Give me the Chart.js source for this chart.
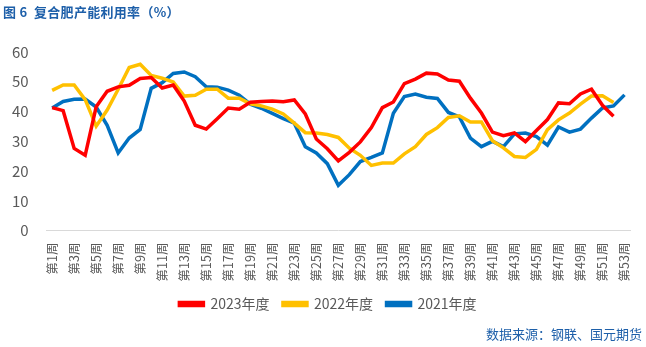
<!DOCTYPE html>
<html>
<head>
<meta charset="utf-8">
<script src="https://cdn.jsdelivr.net/npm/chart.js@4"></script>
<style>
  html, body { margin: 0; padding: 0; background: #fff; }
  #wrap { position: relative; width: 646px; height: 347px; }
  #title { position: absolute; left: 3px; top: 2px; font: bold 13px "Noto Sans CJK SC", sans-serif; color: #1d5fa9; letter-spacing: 0.3px; }
  #source { position: absolute; right: 4px; top: 324px; font: 13px "Noto Sans CJK SC", sans-serif; color: #1d5fa9; }
  canvas { position: absolute; left: 0; top: 0; }
</style>
</head>
<body>
<div id="wrap">
  <canvas id="chart" width="646" height="347"></canvas>
  <div id="title">图 6&nbsp; 复合肥产能利用率（%）</div>
  <div id="source">数据来源：钢联、国元期货</div>
</div>
<script>
// weekly capacity utilisation of compound fertilizer, %
const weeks = [];
for (let w = 1; w <= 53; w++) weeks.push('第' + w + '周');

const y2023 = [41.3, 40.3, 27.6, 25.3, 41.6, 46.8, 48.3, 48.8, 51.1, 51.4,
  47.9, 48.9, 43.5, 35.4, 34.1, 37.6, 41.2, 40.8, 43.1, 43.4,
  43.5, 43.3, 43.9, 39.2, 30.8, 27.5, 23.4, 26.3, 29.8, 34.6,
  41.3, 43.2, 49.4, 50.9, 52.9, 52.6, 50.6, 50.2, 44.5, 39.5,
  33.1, 31.9, 32.8, 29.9, 33.6, 37.3, 42.9, 42.6, 45.9, 47.5,
  42.1, 38.4];

const y2022 = [47.1, 48.9, 48.9, 44.0, 35.1, 40.5, 47.5, 54.8, 55.9, 52.1,
  51.2, 49.9, 45.2, 45.5, 47.5, 47.5, 44.5, 44.5, 42.6, 41.9,
  40.8, 39.2, 36.1, 32.9, 32.8, 32.3, 31.3, 27.7, 25.3, 21.9,
  22.7, 22.7, 25.8, 28.2, 32.3, 34.6, 38.0, 38.6, 36.5, 36.5,
  30.2, 27.8, 24.9, 24.6, 27.3, 33.9, 37.2, 39.5, 42.5, 45.2,
  45.3, 43.0];

const y2021 = [41.2, 43.4, 44.1, 44.2, 41.5, 35.4, 26.1, 31.1, 34.0, 47.8,
  49.7, 52.8, 53.3, 51.7, 48.3, 48.2, 47.2, 45.5, 42.5, 41.1,
  39.4, 37.6, 36.1, 28.2, 26.1, 22.5, 15.2, 18.8, 23.2, 24.6,
  26.1, 39.4, 45.0, 45.9, 44.8, 44.4, 39.7, 38.2, 31.1, 28.2,
  30.0, 28.2, 32.5, 32.8, 31.6, 28.7, 34.8, 33.1, 34.1, 37.8,
  41.2, 41.9, 45.6];

const seriesNames = ['2023年度', '2022年度', '2021年度'];
const seriesColors = ['#ff0000', '#ffc000', '#0070c0'];
const yTicks = [0, 10, 20, 30, 40, 50, 60];

const FONT = '"Noto Sans CJK SC", sans-serif';

function lineSet(i, data) {
  return {
    label: seriesNames[i],
    data: data,
    borderColor: seriesColors[i],
    backgroundColor: seriesColors[i],
    borderWidth: 3.5,
    pointRadius: 0,
    tension: 0,
    fill: false
  };
}

// nudge the legend row a little to the right
const legendShift = {
  id: 'legendShift',
  afterLayout(chart) {
    chart.legend.left += 12;
    chart.legend.right += 12;
  }
};

new Chart(document.getElementById('chart'), {
  type: 'line',
  data: {
    labels: weeks,
    datasets: [lineSet(0, y2023), lineSet(1, y2022), lineSet(2, y2021)]
  },
  plugins: [legendShift],
  options: {
    responsive: false,
    animation: false,
    layout: { padding: { left: 2, right: 16, top: 52, bottom: 26 } },
    scales: {
      x: {
        offset: true,
        grid: { display: false },
        border: { color: '#d9d9d9', width: 1 },
        afterFit: axis => { axis.height -= 2; },
        ticks: {
          autoSkip: false,
          maxRotation: 90,
          minRotation: 90,
          padding: 4,
          color: '#595959',
          font: { family: FONT, size: 12.5 },
          callback: (v, i) => (i % 2 === 0 ? weeks[i] : '')
        }
      },
      y: {
        min: yTicks[0],
        max: yTicks[yTicks.length - 1],
        grid: { display: false },
        border: { display: false },
        afterBuildTicks: axis => { axis.ticks = yTicks.map(v => ({ value: v })); },
        ticks: {
          padding: 10,
          color: '#595959',
          font: { family: FONT, size: 15 }
        }
      }
    },
    plugins: {
      legend: {
        position: 'bottom',
        labels: {
          boxWidth: 24,
          boxHeight: 3,
          padding: 13.5,
          color: '#595959',
          font: { family: FONT, size: 14 }
        }
      },
      tooltip: { enabled: false }
    }
  }
});
</script>
</body>
</html>
